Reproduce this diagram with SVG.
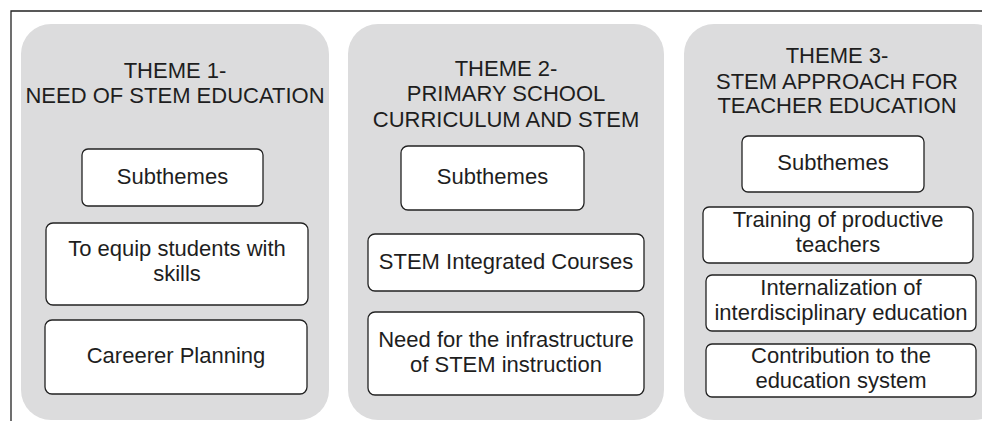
<svg xmlns="http://www.w3.org/2000/svg" width="982" height="421" viewBox="0 0 982 421">
<style>
.panel{fill:#dcdcdd;stroke:none}
.box{fill:#ffffff;stroke:#222;stroke-width:1.3}
text{font-family:"Liberation Sans",Arial,sans-serif;font-size:22px;fill:#1e1e1e;text-anchor:middle}
.frame{stroke:#222;stroke-width:1.3;fill:none}
</style>
<rect width="982" height="421" fill="#ffffff"/>
<g id="frame"><path class="frame" d="M11,421 V11 H982"/></g>
<g id="theme1">
<rect class="panel" x="21" y="24" width="308" height="396" rx="30" ry="30"/>
<text x="175" y="78">THEME 1-</text>
<text x="175" y="103">NEED OF STEM EDUCATION</text>
</g>
<g id="t1-sub"><rect class="box" x="82" y="149" width="181" height="57" rx="6"/><text x="172.5" y="184">Subthemes</text></g>
<g id="t1-skills"><rect class="box" x="46" y="223" width="262" height="82" rx="7"/><text x="177" y="256">To equip students with</text><text x="177" y="281">skills</text></g>
<g id="t1-career"><rect class="box" x="45" y="320" width="262" height="74" rx="7"/><text x="176" y="363">Careerer Planning</text></g>
<g id="theme2">
<rect class="panel" x="348" y="24" width="316" height="396" rx="30" ry="30"/>
<text x="506" y="76">THEME 2-</text>
<text x="506" y="101">PRIMARY SCHOOL</text>
<text x="506" y="127">CURRICULUM AND STEM</text>
</g>
<g id="t2-sub"><rect class="box" x="401" y="146" width="183" height="64" rx="7"/><text x="492.5" y="184">Subthemes</text></g>
<g id="t2-courses"><rect class="box" x="368" y="234" width="276" height="57" rx="7"/><text x="506" y="269">STEM Integrated Courses</text></g>
<g id="t2-infra"><rect class="box" x="368" y="312" width="276" height="83" rx="7"/><text x="506" y="347">Need for the infrastructure</text><text x="506" y="372">of STEM instruction</text></g>
<g id="theme3">
<rect class="panel" x="684" y="24" width="320" height="396" rx="30" ry="30"/>
<text x="837" y="63">THEME 3-</text>
<text x="837" y="89">STEM APPROACH FOR</text>
<text x="837" y="113">TEACHER EDUCATION</text>
</g>
<g id="t3-sub"><rect class="box" x="742" y="136" width="182" height="56" rx="6"/><text x="833" y="170">Subthemes</text></g>
<g id="t3-training"><rect class="box" x="703" y="207" width="270" height="56" rx="6"/><text x="838" y="227">Training of productive</text><text x="838" y="252">teachers</text></g>
<g id="t3-intern"><rect class="box" x="706" y="275" width="270" height="56" rx="6"/><text x="841" y="295">Internalization of</text><text x="841" y="320">interdisciplinary education</text></g>
<g id="t3-contrib"><rect class="box" x="706" y="344" width="270" height="53" rx="6"/><text x="841" y="363">Contribution to the</text><text x="841" y="388">education system</text></g>
</svg>
